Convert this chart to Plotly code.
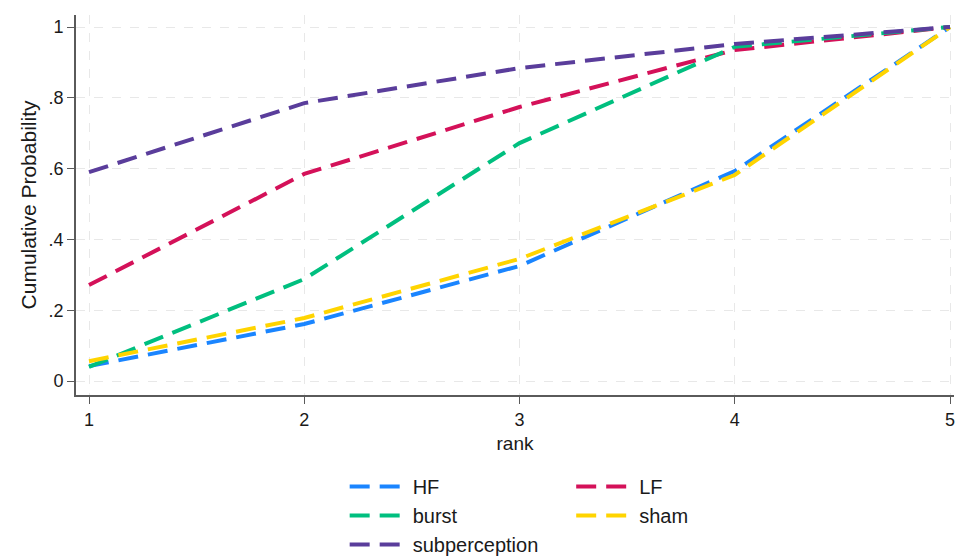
import plotly.graph_objects as go

ranks = [1, 2, 3, 4, 5]
series_names = ["HF", "LF", "burst", "sham", "subperception"]
hf = [0.042, 0.161, 0.325, 0.593, 1.0]
lf = [0.271, 0.585, 0.774, 0.935, 1.0]
burst = [0.040, 0.288, 0.672, 0.944, 1.0]
sham = [0.056, 0.178, 0.345, 0.582, 1.0]
subperception = [0.590, 0.785, 0.884, 0.952, 1.0]
y_ticks = [0, 0.2, 0.4, 0.6, 0.8, 1]
y_tick_labels = ["0", ".2", ".4", ".6", ".8", "1"]

colors = {"HF": "#1a85ff", "LF": "#d41159", "burst": "#00bf7f",
          "sham": "#ffd400", "subperception": "#5a3d9b"}
values = {"HF": hf, "LF": lf, "burst": burst, "sham": sham, "subperception": subperception}
legend_of = {"HF": "legend", "burst": "legend", "subperception": "legend",
             "LF": "legend2", "sham": "legend2"}

fig = go.Figure()
for name in series_names:
    fig.add_trace(go.Scatter(
        x=ranks, y=values[name], mode="lines", name=name,
        line=dict(color=colors[name], width=4, dash="20px,10px"),
        legend=legend_of[name],
    ))

font = dict(family="Liberation Sans, Arial, sans-serif", size=18, color="#1a1a1a")
axis_common = dict(showline=True, linecolor="#5a5a5a", linewidth=2, ticks="outside",
                   ticklen=7, tickcolor="#5a5a5a", showgrid=True, gridcolor="#e8e8e8",
                   griddash="dash", gridwidth=1, zeroline=False, mirror=False,
                   automargin=False)

fig.update_layout(
    width=956, height=556,
    margin=dict(l=76, r=2, t=15, b=161, autoexpand=False),
    paper_bgcolor="white", plot_bgcolor="white",
    font=font,
    xaxis=dict(range=[0.9396, 5.0186], tickvals=ranks, ticktext=[str(r) for r in ranks],
               tickfont=dict(size=18),
               title=dict(text="rank", font=dict(size=19), standoff=8), **axis_common),
    yaxis=dict(range=[-0.0395, 1.034], tickvals=y_ticks, ticktext=y_tick_labels,
               tickfont=dict(size=18),
               title=dict(text="Cumulative Probability", font=dict(size=21), standoff=6),
               **axis_common),
    legend=dict(x=0.306, y=-0.1895, xanchor="left", yanchor="top", orientation="v",
                font=dict(size=20), tracegroupgap=0, itemwidth=58, bgcolor="rgba(0,0,0,0)"),
    legend2=dict(x=0.564, y=-0.1895, xanchor="left", yanchor="top", orientation="v",
                 font=dict(size=20), tracegroupgap=0, itemwidth=58, bgcolor="rgba(0,0,0,0)"),
    showlegend=True,
)

fig.write_html("out.html", config={"displayModeBar": False},
               post_script="document.body.style.margin='0';")
